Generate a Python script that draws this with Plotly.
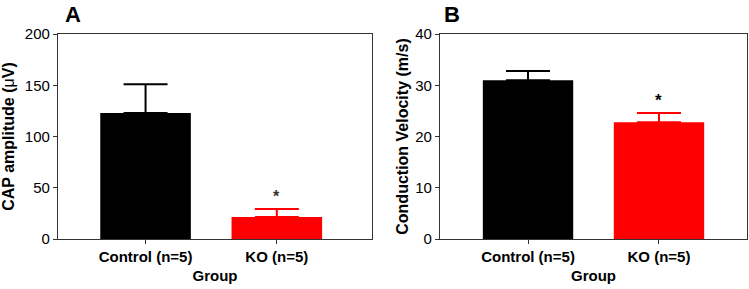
import plotly.graph_objects as go
from plotly.subplots import make_subplots

groups = ["Control (n=5)", "KO (n=5)"]
cap_mean = [123, 21.5]
cap_sem = [28, 7.8]
cv_mean = [31.0, 22.8]
cv_sem = [1.8, 1.8]
bar_colors = ["#000000", "#ff0000"]

W, H = 749, 289
ML, MR, MT, MB = 58, 2, 34, 50
PW = W - ML - MR
PH = H - MT - MB

def px_x(p):
    return (p - ML) / PW

def px_y(p):
    return (H - MB - p) / PH

fig = make_subplots(rows=1, cols=2)

xpos = list(range(len(groups)))
for col, (m, s) in enumerate([(cap_mean, cap_sem), (cv_mean, cv_sem)], start=1):
    for i in xpos:
        fig.add_trace(go.Bar(
            x=[i], y=[m[i]], width=0.69,
            marker=dict(color=bar_colors[i], line=dict(width=0)),
            error_y=dict(type="data", symmetric=False, array=[s[i]], arrayminus=[0],
                         color=bar_colors[i], thickness=2, width=22),
            showlegend=False, hoverinfo="skip",
        ), row=1, col=col)

FAM = "Liberation Sans, Arial, sans-serif"
axis_common = dict(showline=True, linecolor="#333333", linewidth=1.3, mirror=True,
                   ticks="outside", ticklen=4, tickwidth=1.3, tickcolor="#333333",
                   showgrid=False, zeroline=False, automargin=False,
                   tickfont=dict(family=FAM, size=15, color="black"))

bold_groups = ["<b>%s</b>" % g for g in groups]
fig.update_layout(
    width=W, height=H,
    margin=dict(l=ML, r=MR, t=MT, b=MB),
    plot_bgcolor="white", paper_bgcolor="white",
    font=dict(family=FAM, size=15, color="black"),
    xaxis=dict(domain=[0, px_x(372)], range=[-0.667, 1.725], tickvals=xpos, ticktext=bold_groups,
               title=dict(text="<b>Group</b>", font=dict(size=15), standoff=6), **axis_common),
    xaxis2=dict(domain=[px_x(440), 1.0], range=[-0.672, 1.672], tickvals=xpos, ticktext=bold_groups,
                title=dict(text="<b>Group</b>", font=dict(size=15), standoff=6), **axis_common),
    yaxis=dict(range=[0, 200], tickvals=[0, 50, 100, 150, 200],
               tickprefix="<b>", ticksuffix="</b>",
               title=dict(text="<b>CAP amplitude (</b>μ<b>V)</b>", font=dict(size=16), standoff=8), **axis_common),
    yaxis2=dict(range=[0, 40], tickvals=[0, 10, 20, 30, 40],
                tickprefix="<b>", ticksuffix="</b>",
                title=dict(text="<b>Conduction Velocity (m/s)</b>", font=dict(size=16), standoff=2), **axis_common),
)

fig.add_annotation(x=1, y=41, xref="x", yref="y", text="<b>*</b>", showarrow=False,
                   font=dict(size=16, color="#333333"))
fig.add_annotation(x=1, y=27.1, xref="x2", yref="y2", text="<b>*</b>", showarrow=False,
                   font=dict(size=17, color="black"))
fig.add_annotation(x=px_x(73), y=px_y(15), xref="paper", yref="paper", yanchor="middle", xanchor="center",
                   text="<b>A</b>", showarrow=False, font=dict(size=22, color="black"))
fig.add_annotation(x=px_x(452), y=px_y(15), xref="paper", yref="paper", yanchor="middle", xanchor="center",
                   text="<b>B</b>", showarrow=False, font=dict(size=22, color="black"))

fig.write_html("out.html", config={"displayModeBar": False},
               post_script="document.body.style.margin='0';document.body.style.padding='0';")
